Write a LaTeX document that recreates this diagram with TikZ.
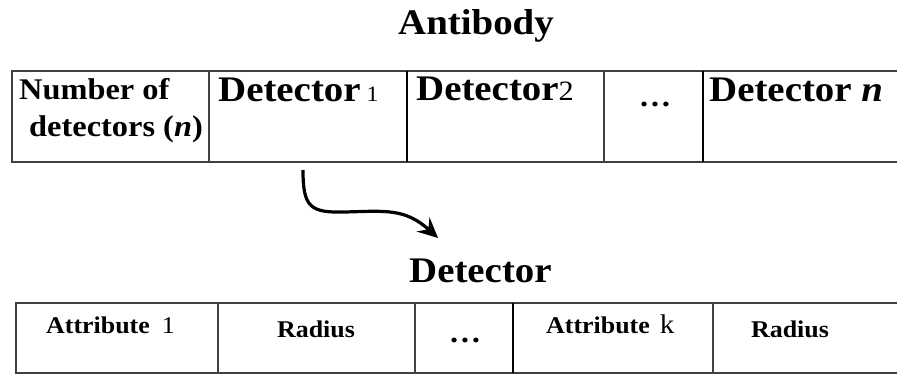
\documentclass[tikz,border=0pt]{standalone}
\usepackage{fontspec}
\setmainfont{Liberation Serif}[FakeStretch=1.08]
\usetikzlibrary{arrows.meta}
\tikzset{
  tline/.style={line width=2pt, draw=black!75},
  tlinek/.style={line width=2.6pt, draw=black},
  lbl/.style={inner sep=0pt, anchor=base west, font=\bfseries},
  lblc/.style={inner sep=0pt, anchor=base, font=\bfseries},
  conn/.style={line width=3.2pt, -{Stealth[length=20pt,width=19pt,inset=7pt]}}
}
\newcommand{\fsz}[1]{\fontsize{#1}{#1}\selectfont}
\begin{document}
\begin{tikzpicture}[x=1pt,y=-1pt]
\useasboundingbox[fill=white] (0,0) rectangle (897,374);
% top table
\draw[tline] (905,71) -- (12,71) -- (12,162) -- (905,162);
\draw[tline] (209,71) -- (209,162);
\draw[tlinek] (407,71) -- (407,162);
\draw[tline] (604,71) -- (604,162);
\draw[tlinek] (703,71) -- (703,162);
% bottom table
\draw[tline] (905,303) -- (16,303) -- (16,373) -- (905,373);
\draw[tline] (218,303) -- (218,373);
\draw[tline] (415,303) -- (415,373);
\draw[tlinek] (513,303) -- (513,373);
\draw[tline] (713,303) -- (713,373);
% titles
\node[lbl, font=\bfseries\fsz{36}] (antibody) at (398,35) {Antibody};
\node[lbl, font=\bfseries\fsz{36}] (dettitle) at (409,282) {Detector};
% top table texts
\node[lbl, font=\bfseries\fsz{30}] (num1) at (19,100) {Number of};
\node[lbl, font=\bfseries\fsz{30}] (num2) at (29,137) {detectors (\textit{n})};
\node[lbl, font=\bfseries\fsz{36}] (d1) at (218,102) {Detector\,{\mdseries\fsz{22}1}};
\node[lbl, font=\bfseries\fsz{36}] (d2) at (416,101) {Detector{\mdseries\fsz{28}2}};
\node[lblc, font=\bfseries\fsz{30}] (dots1) at (655,107) {\ldots};
\node[lbl, font=\bfseries\fsz{36}] (dn) at (709,102) {Detector \textit{n}};
% bottom table texts
\node[lbl, font=\bfseries\fsz{24}] (a1) at (46,333) {Attribute\hspace{12pt}{\mdseries\fsz{24}1}};
\node[lblc, font=\bfseries\fsz{24}] (r1) at (316,337) {Radius};
\node[lblc, font=\bfseries\fsz{30}] (dots2) at (465,342) {\ldots};
\node[lbl, font=\bfseries\fsz{24}] (ak) at (546,333) {Attribute\hspace{10pt}{\mdseries\fsz{27}k}};
\node[lblc, font=\bfseries\fsz{24}] (r2) at (790,337) {Radius};
% arrow
\coordinate (arrs) at (303,170);
\coordinate (arre) at (438,238);
\draw[conn] (arrs) .. controls (303,207) and (310,213) .. (345,212)
  .. controls (385,211) and (405,208) .. (arre);
\end{tikzpicture}
\end{document}
